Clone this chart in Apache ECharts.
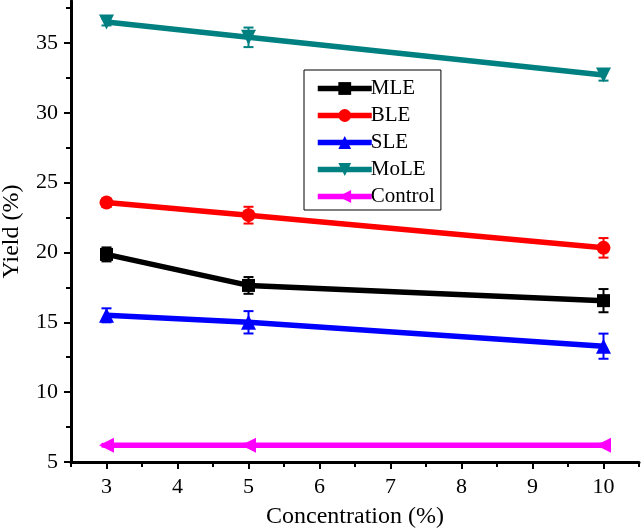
<!DOCTYPE html>
<html>
<head>
<meta charset="utf-8">
<script src="https://cdn.jsdelivr.net/npm/echarts@6/dist/echarts.min.js"></script>
<style>html,body{margin:0;padding:0;background:#fff;}#c{width:641px;height:531px;}</style>
</head>
<body>
<div id="c"></div>
<script>
const concentrations = [3, 5, 10];
const seriesNames = ['MLE', 'BLE', 'SLE', 'MoLE', 'Control'];
const mleValues = [19.86, 17.64, 16.55];
const mleErrors = [0.5, 0.6, 0.83];
const bleValues = [23.57, 22.67, 20.33];
const bleErrors = [0.3, 0.6, 0.7];
const sleValues = [15.5, 15.0, 13.29];
const sleErrors = [0.5, 0.8, 0.9];
const moleValues = [36.5, 35.4, 32.7];
const moleErrors = [0.25, 0.7, 0.4];
const controlValues = [6.2, 6.2, 6.2];
const controlErrors = [0.1, 0.1, 0.1];
const xTickLabels = [3, 4, 5, 6, 7, 8, 9, 10];
const xMinorTicks = [2.5, 3.5, 4.5, 5.5, 6.5, 7.5, 8.5, 9.5, 10.5];
const yTickLabels = [5, 10, 15, 20, 25, 30, 35];
const yMinorTicks = [7.5, 12.5, 17.5, 22.5, 27.5, 32.5, 37.5];

const colors = ['#000000', '#ff0000', '#0000ff', '#008080', '#ff00ff'];
const allValues = [mleValues, bleValues, sleValues, moleValues, controlValues];
const allErrors = [mleErrors, bleErrors, sleErrors, moleErrors, controlErrors];
const symbols = ['rect', 'circle', 'triangle', 'triangle', 'triangle'];
const rotates = [0, 0, 0, 180, 90];
const sizes = [13, 14, 15, 15, 15];
const FONT = "'Liberation Serif', 'Times New Roman', serif";

const series = [];
seriesNames.forEach((name, i) => {
  series.push({
    name: name, type: 'line',
    data: concentrations.map((x, j) => [x, allValues[i][j]]),
    symbol: symbols[i], symbolRotate: rotates[i], symbolSize: sizes[i],
    lineStyle: { color: colors[i], width: 5.5 },
    itemStyle: { color: colors[i] },
    z: 3
  });
});
seriesNames.forEach((name, i) => {
  series.push({
    name: name + ' err', type: 'custom',
    data: concentrations.map((x, j) => [x, allValues[i][j] - allErrors[i][j], allValues[i][j] + allErrors[i][j]]),
    renderItem: function (params, api) {
      const lo = api.coord([api.value(0), api.value(1)]);
      const hi = api.coord([api.value(0), api.value(2)]);
      const hw = 5;
      const style = { stroke: colors[i], lineWidth: 2 };
      return { type: 'group', children: [
        { type: 'line', shape: { x1: lo[0], y1: lo[1], x2: hi[0], y2: hi[1] }, style: style },
        { type: 'line', shape: { x1: lo[0] - hw, y1: lo[1], x2: lo[0] + hw, y2: lo[1] }, style: style },
        { type: 'line', shape: { x1: hi[0] - hw, y1: hi[1], x2: hi[0] + hw, y2: hi[1] }, style: style }
      ]};
    },
    z: 4, silent: true
  });
});

const chart = echarts.init(document.getElementById('c'));
chart.setOption({
  animation: false,
  backgroundColor: '#fff',
  grid: { left: 71, right: 2, top: 1, bottom: 69, containLabel: false, outerBoundsMode: 'none' },
  legend: {
    data: seriesNames,
    orient: 'vertical', left: 304, top: 70,
    padding: [8, 6, 3, 11],
    itemWidth: 54, itemHeight: 16, itemGap: 6,
    borderColor: '#000', borderWidth: 1, backgroundColor: '#fff',
    lineStyle: { width: 5.5 },
    textStyle: { fontFamily: FONT, fontSize: 21, color: '#000', padding: [0, 0, 0, -6] }
  },
  xAxis: [{
    type: 'value', min: 2.5, max: 10.5, position: 'bottom',
    name: 'Concentration (%)', nameLocation: 'middle', nameGap: 43,
    nameTextStyle: { fontFamily: FONT, fontSize: 24, color: '#000' },
    axisLine: { show: true, onZero: false, lineStyle: { color: '#000', width: 3 } },
    axisTick: { show: true, length: 7, customValues: xTickLabels, lineStyle: { color: '#000', width: 2 } },
    axisLabel: { customValues: xTickLabels, margin: 14, fontFamily: FONT, fontSize: 22, color: '#000' },
    splitLine: { show: false }
  }, {
    type: 'value', min: 2.5, max: 10.5, position: 'bottom',
    axisLine: { show: false },
    axisTick: { show: true, length: 5, customValues: xMinorTicks, lineStyle: { color: '#000', width: 2 } },
    axisLabel: { show: false },
    splitLine: { show: false }
  }],
  yAxis: [{
    type: 'value', min: 5, max: 38, position: 'left',
    name: 'Yield (%)', nameLocation: 'middle', nameGap: 47, nameRotate: 90,
    nameTextStyle: { fontFamily: FONT, fontSize: 24, color: '#000' },
    axisLine: { show: true, onZero: false, lineStyle: { color: '#000', width: 3 } },
    axisTick: { show: true, length: 7, customValues: yTickLabels, lineStyle: { color: '#000', width: 2 } },
    axisLabel: { customValues: yTickLabels, margin: 13, fontFamily: FONT, fontSize: 22, color: '#000' },
    splitLine: { show: false }
  }, {
    type: 'value', min: 5, max: 38, position: 'left',
    axisLine: { show: false },
    axisTick: { show: true, length: 5, customValues: yMinorTicks, lineStyle: { color: '#000', width: 2 } },
    axisLabel: { show: false },
    splitLine: { show: false }
  }],
  series: series
});
</script>
</body>
</html>
